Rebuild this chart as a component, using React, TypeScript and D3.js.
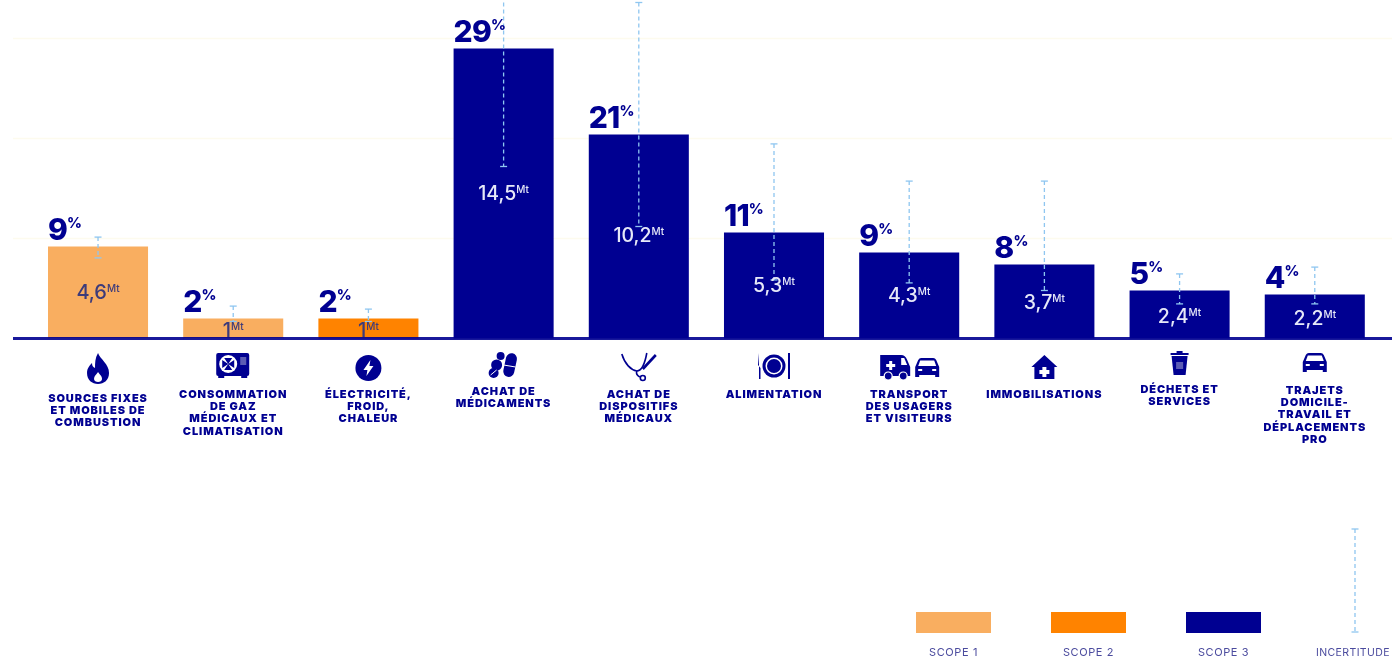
import * as d3 from "d3";

const WIDTH = 1392;
const HEIGHT = 658;
const NAVY = "#000091";
const LIGHT_ORANGE = "#f9ae61";
const ORANGE = "#ff8300";
const ERROR_BLUE = "#8fc6f0";
const FONT = "Inter, 'Noto Sans', sans-serif";

const categories = [
  "sources",
  "gaz",
  "electricite",
  "medicaments",
  "dispositifs",
  "alimentation",
  "transport",
  "immobilisations",
  "dechets",
  "trajets",
];
const labels = [
  ["SOURCES FIXES", "ET MOBILES DE", "COMBUSTION"],
  ["CONSOMMATION", "DE GAZ", "MÉDICAUX ET", "CLIMATISATION"],
  ["ÉLECTRICITÉ,", "FROID,", "CHALEUR"],
  ["ACHAT DE", "MÉDICAMENTS"],
  ["ACHAT DE", "DISPOSITIFS", "MÉDICAUX"],
  ["ALIMENTATION"],
  ["TRANSPORT", "DES USAGERS", "ET VISITEURS"],
  ["IMMOBILISATIONS"],
  ["DÉCHETS ET", "SERVICES"],
  ["TRAJETS", "DOMICILE-", "TRAVAIL ET", "DÉPLACEMENTS", "PRO"],
];
const values = [4.6, 1, 1, 14.5, 10.2, 5.3, 4.3, 3.7, 2.4, 2.2];
const valueTexts = ["4,6", "1", "1", "14,5", "10,2", "5,3", "4,3", "3,7", "2,4", "2,2"];
const percents = [9, 2, 2, 29, 21, 11, 9, 8, 5, 4];
const scopes = [1, 1, 2, 3, 3, 3, 3, 3, 3, 3];
const errorHigh = [5.07, 1.62, 1.47, 17.5, 16.8, 9.73, 7.87, 7.87, 3.23, 3.57];
const errorLow = [4.03, 0.85, 0.85, 8.6, 5.6, 2.93, 2.78, 2.4, 1.73, 1.73];
// level (in Mt) of the baseline of the value text inside each bar
const valueTextLevel = [2, 0.1, 0.1, 6.95, 4.85, 2.35, 1.85, 1.5, 0.8, 0.7];
const gridTicks = [5, 10, 15];

const legendScopes = [1, 2, 3];
const scopeColor: Record<number, string> = { 1: LIGHT_ORANGE, 2: ORANGE, 3: NAVY };

// Layout of the text and icons under the axis
const labelTop = [398.5, 394.5, 394.5, 391.5, 394.5, 394.5, 394.5, 394.5, 389.5, 390.5];
const iconY = [369, 365, 368, 365, 366, 366, 367, 367, 364, 364];
const LABEL_LINE = 12.4;

const xScale = d3.scaleBand<string>().domain(categories).range([48, 1364.8]).paddingInner(0.26);
const yScale = d3.scaleLinear().domain([0, 15]).range([338.5, 38.5]);

const ErrorBar = ({ x, y1, y2 }: { x: number; y1: number; y2: number }) => (
  <g stroke={ERROR_BLUE} fill="none">
    <line x1={x} x2={x} y1={y1} y2={y2} strokeDasharray="4 3" strokeWidth={1.3} />
    <line x1={x - 3.5} x2={x + 3.5} y1={y1} y2={y1} strokeWidth={1.3} />
    <line x1={x - 3.5} x2={x + 3.5} y1={y2} y2={y2} strokeWidth={1.3} />
  </g>
);

const Car = () => (
  <g fill={NAVY}>
    <path d="M-12 -2 L-9 -9 Q-8 -11 -6 -11 L6 -11 Q8 -11 9 -9 L12 -2 L12 8 L8 8 L8 6 L-8 6 L-8 8 L-12 8 Z" />
    <path d="M-7 -8.5 L7 -8.5 L9 -3 L-9 -3 Z" fill="#fff" />
    <rect x={-9} y={0} width={4} height={2} fill="#fff" />
    <rect x={5} y={0} width={4} height={2} fill="#fff" />
  </g>
);

// Small pictograms above the category labels, drawn around (0,0)
const icons: Record<string, JSX.Element> = {
  sources: (
    <g>
      <path
        d="M0 -16 C2 -10 11 -5 11 4 C11 11 6 15 0 15 C-6 15 -11 11 -11 4 C-11 -1 -8 -4 -6 -6 C-6 -3 -5 -2 -3 -1 C-3 -6 -3 -11 0 -16 Z"
        fill={NAVY}
      />
      <path d="M0 3 C2 6 4 7 4 10 C4 12 2 13 0 13 C-2 13 -4 12 -4 10 C-4 7 -2 6 0 3 Z" fill="#fff" />
    </g>
  ),
  gaz: (
    <g>
      <rect x={-17} y={-12} width={33} height={23} rx={2} fill={NAVY} />
      <rect x={-15} y={11} width={6} height={2} fill={NAVY} />
      <rect x={8} y={11} width={6} height={2} fill={NAVY} />
      <circle cx={-5} cy={-1} r={9} fill="#fff" />
      <path d="M-5 -1 L-9 -7 L-1 -7 Z M-5 -1 L-9 5 L-1 5 Z M-5 -1 L-11 -5 L-11 3 Z M-5 -1 L1 -5 L1 3 Z" fill={NAVY} />
      <rect x={7} y={-8} width={6} height={8} fill="#5b5bb5" />
    </g>
  ),
  electricite: (
    <g>
      <circle r={13} fill={NAVY} />
      <path d="M2 -8 L-5 2 L-1 2 L-2 8 L5 -2 L1 -2 Z" fill="#fff" />
    </g>
  ),
  medicaments: (
    <g fill={NAVY}>
      <rect x={1} y={-12} width={11} height={24} rx={5.5} transform="rotate(12 6 0)" />
      <circle cx={-3} cy={-9} r={4} />
      <circle cx={-7} cy={0} r={5.5} />
      <circle cx={-10} cy={8} r={5} />
      <line x1={0} x2={12} y1={0} y2={2} stroke="#fff" strokeWidth={1} />
      <line x1={-13} x2={-7} y1={10} y2={5} stroke="#fff" strokeWidth={1} />
    </g>
  ),
  dispositifs: (
    <g fill="none" stroke={NAVY} strokeWidth={1.6}>
      <path d="M-17 -12 C-14 -2 -8 4 -2 5 C3 5 6 -2 8 -13" />
      <path d="M-2 5 C-3 8 -1 10 1 11" />
      <circle cx={4} cy={12} r={2.5} />
      <path d="M4 3 L17 -11" strokeWidth={2.6} />
    </g>
  ),
  alimentation: (
    <g>
      <circle r={11.5} fill={NAVY} />
      <circle r={8.5} fill="#fff" />
      <circle r={7} fill={NAVY} />
      <path d="M-15 -13 L-15 13 L-13.5 13 L-13.5 2 L-16 -1 Z" fill={NAVY} />
      <rect x={14} y={-13} width={2} height={26} fill={NAVY} />
    </g>
  ),
  transport: (
    <g>
      <g transform="translate(-14,0)">
        <path d="M-15 -12 L6 -12 Q10 -12 12 -7 L15 0 L15 9 L-15 9 Z" fill={NAVY} />
        <path d="M6 -9 L9 -9 L12 -2 L6 -2 Z" fill="#fff" />
        <path d="M-9 -3 L-6 -3 L-6 -6 L-3 -6 L-3 -3 L0 -3 L0 0 L-3 0 L-3 3 L-6 3 L-6 0 L-9 0 Z" fill="#fff" />
        <circle cx={-7} cy={9} r={4} fill={NAVY} stroke="#fff" strokeWidth={1.2} />
        <circle cx={8} cy={9} r={4} fill={NAVY} stroke="#fff" strokeWidth={1.2} />
      </g>
      <g transform="translate(18,2)">
        <Car />
      </g>
    </g>
  ),
  immobilisations: (
    <g>
      <path d="M0 -12 L13 0 L10 0 L10 12 L-10 12 L-10 0 L-13 0 Z" fill={NAVY} />
      <path d="M-2 0 L2 0 L2 3 L5 3 L5 7 L2 7 L2 10 L-2 10 L-2 7 L-5 7 L-5 3 L-2 3 Z" fill="#fff" />
    </g>
  ),
  dechets: (
    <g fill={NAVY}>
      <path d="M-8 -8 L8 -8 L6 11 L-6 11 Z" />
      <rect x={-9} y={-11} width={18} height={2} />
      <rect x={-3} y={-13} width={6} height={2} />
      <rect x={-3.5} y={-2} width={7} height={7} fill="#5b5bb5" />
    </g>
  ),
  trajets: <Car />,
};

export default function App() {
  return (
    <svg
      width={WIDTH}
      height={HEIGHT}
      style={{ position: "absolute", left: 0, top: 0, display: "block", background: "#fff", fontFamily: FONT }}
    >
      {/* the source picture is a soft, upscaled image */}
      <defs>
        <filter id="soft" filterUnits="userSpaceOnUse" x={0} y={0} width={WIDTH} height={HEIGHT}>
          <feGaussianBlur stdDeviation={0.5} />
        </filter>
      </defs>
      <g filter="url(#soft)">
        {/* faint grid */}
        {gridTicks.map((t) => (
          <line key={t} x1={13} x2={WIDTH} y1={yScale(t)} y2={yScale(t)} stroke="#fdfbee" strokeWidth={1.5} />
        ))}

        {/* bars */}
        {categories.map((c, i) => (
          <rect
            key={c}
            x={xScale(c)}
            y={yScale(values[i])}
            width={xScale.bandwidth()}
            height={yScale(0) - yScale(values[i])}
            fill={scopeColor[scopes[i]]}
          />
        ))}

        {/* axis */}
        <line x1={13} x2={WIDTH} y1={yScale(0)} y2={yScale(0)} stroke={NAVY} strokeWidth={3} opacity={0.9} />

        {/* uncertainty */}
        {categories.map((c, i) => (
          <ErrorBar
            key={c}
            x={(xScale(c) as number) + xScale.bandwidth() / 2}
            y1={yScale(errorHigh[i])}
            y2={yScale(errorLow[i])}
          />
        ))}

        {categories.map((c, i) => {
          const left = xScale(c) as number;
          const mid = left + xScale.bandwidth() / 2;
          return (
            <g key={c}>
              {/* share of the total, above the bar */}
              <text x={left} y={yScale(values[i]) - 7} fill={NAVY} fontSize={30} fontWeight={800} letterSpacing={-0.8}>
                {percents[i]}
                <tspan fontSize={14.5} dy={-12}>
                  %
                </tspan>
              </text>
              {/* value in Mt, inside the bar */}
              <text
                x={mid}
                y={yScale(valueTextLevel[i])}
                textAnchor="middle"
                fill={scopes[i] === 3 ? "#e6e8f8" : "#3c3a7a"}
                fontSize={scopes[i] === 3 ? 19.5 : 20}
                fontWeight={500}
              >
                {valueTexts[i]}
                <tspan fontSize={10} dy={-7}>
                  Mt
                </tspan>
              </text>
              <g transform={`translate(${mid},${iconY[i]})`}>{icons[c]}</g>
              <text
                textAnchor="middle"
                fill={NAVY}
                fontSize={11}
                fontWeight={900}
                letterSpacing={0.9}
                dominantBaseline="middle"
              >
                {labels[i].map((line, j) => (
                  <tspan key={j} x={mid} y={labelTop[i] + j * LABEL_LINE}>
                    {line}
                  </tspan>
                ))}
              </text>
            </g>
          );
        })}

        {/* legend */}
        {legendScopes.map((s, i) => (
          <g key={s} transform={`translate(${916 + i * 135},0)`}>
            <rect y={612} width={75} height={21} fill={scopeColor[s]} />
            <text x={37.5} y={656} textAnchor="middle" fill="#4b4b9e" fontSize={11} letterSpacing={0.6}>
              SCOPE {s}
            </text>
          </g>
        ))}
        <ErrorBar x={1355} y1={529} y2={632} />
        <text x={1316} y={656} fill="#4b4b9e" fontSize={10.5} letterSpacing={0.4}>
          INCERTITUDE
        </text>
      </g>
    </svg>
  );
}
